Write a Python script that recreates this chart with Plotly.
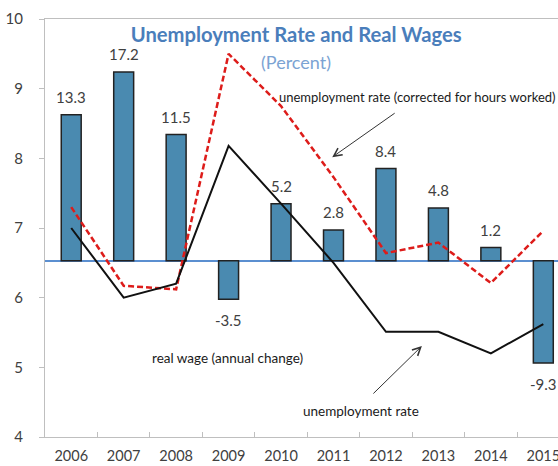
import plotly.graph_objects as go

years = ['2006', '2007', '2008', '2009', '2010', '2011', '2012', '2013', '2014', '2015']
real_wage = [13.3, 17.2, 11.5, -3.5, 5.2, 2.8, 8.4, 4.8, 1.2, -9.3]
unemp_rate = [7.0, 6.0, 6.2, 8.18, 7.35, 6.5, 5.51, 5.51, 5.2, 5.62]
unemp_hours = [7.3, 6.17, 6.12, 9.5, 8.75, 7.73, 6.64, 6.79, 6.21, 6.96]
y_ticks = [4, 5, 6, 7, 8, 9, 10]

FONT = "Lato"
TXT = "#404040"
GRAY = "#BFBFBF"

W, H = 558, 466
ML, MT, MB = 44.5, 19, 29

fig = go.Figure()

fig.add_trace(go.Bar(
    x=years, y=real_wage, yaxis="y", width=0.38,
    marker=dict(color="#4A8AB0", line=dict(color="#222222", width=1.5)),
    name="real wage (annual change)",
))
fig.add_trace(go.Scatter(
    x=years, y=unemp_hours, yaxis="y2", mode="lines",
    line=dict(color="#DD1C1A", width=2.5, dash="6px,3px"),
    name="unemployment rate (corrected for hours worked)",
))
fig.add_trace(go.Scatter(
    x=years, y=unemp_rate, yaxis="y2", mode="lines",
    line=dict(color="#111111", width=2),
    name="unemployment rate",
))

annotations = []
for i, v in enumerate(real_wage):
    annotations.append(dict(
        x=i, y=v, xref="x", yref="y", text=f"{v:.1f}", showarrow=False,
        yanchor="bottom" if v >= 0 else "top", yshift=7 if v >= 0 else -10,
        font=dict(family=FONT, size=15, color=TXT),
    ))

NOTE = dict(family=FONT, size=13.5, color="#1A1A1A")
annotations += [
    dict(x=4.28, y=9.38, xref="x", yref="y2", text="(Percent)", showarrow=False,
         font=dict(family=FONT, size=18, color="#7BA3D3")),
    dict(x=3.93, y=8.882, xref="x", yref="y2", xanchor="left",
         text="unemployment rate (corrected for hours worked)", showarrow=False,
         font=dict(family=FONT, size=13, color="#1A1A1A")),
    dict(x=1.51, y=5.133, xref="x", yref="y2", xanchor="left",
         text="real wage (annual change)", showarrow=False, font=NOTE),
    dict(x=4.38, y=4.373, xref="x", yref="y2", xanchor="left",
         text="unemployment rate", showarrow=False, font=NOTE),
    dict(x=4.976, y=8.017, xref="x", yref="y2", ax=6.195, ay=8.663,
         axref="x", ayref="y2", text="", showarrow=True, arrowhead=5,
         arrowsize=1.6, arrowwidth=1, arrowcolor="#333333"),
    dict(x=6.685, y=5.306, xref="x", yref="y2", ax=5.732, ay=4.603,
         axref="x", ayref="y2", text="", showarrow=True, arrowhead=5,
         arrowsize=1.6, arrowwidth=1, arrowcolor="#333333"),
]

fig.update_layout(
    width=W, height=H,
    margin=dict(l=ML, r=0, t=MT, b=MB, autoexpand=False),
    paper_bgcolor="white", plot_bgcolor="white",
    showlegend=False,
    title=dict(text="<b>Unemployment Rate and Real Wages</b>",
               x=(296 - 44.5) / 513.5, xref="paper", xanchor="center",
               y=1 - 35 / H, yref="container", yanchor="middle",
               font=dict(family=FONT, size=20.2, color="#4A7EBB")),
    xaxis=dict(
        type="category", categoryorder="array", categoryarray=years,
        range=[-0.5, 9.28], showgrid=False, zeroline=False,
        showline=True, linecolor=GRAY, linewidth=1, mirror=True,
        ticks="inside", tickson="boundaries", ticklen=5, tickcolor=GRAY,
        tickfont=dict(family=FONT, size=14.5, color=TXT),
        ticklabelstandoff=6,
    ),
    yaxis=dict(
        range=[-16.05, 22.02], showgrid=False, showticklabels=False,
        ticks="", showline=False,
        zeroline=True, zerolinecolor="#5B8FD0", zerolinewidth=1.5,
    ),
    yaxis2=dict(
        overlaying="y", side="left", range=[4, 10], tickvals=y_ticks,
        showgrid=False, zeroline=False,
        showline=True, linecolor=GRAY, linewidth=1,
        ticks="outside", ticklen=5, tickcolor=GRAY,
        tickfont=dict(family=FONT, size=15, color=TXT),
        ticklabelstandoff=13,
    ),
    annotations=annotations,
)

fig.write_html(
    "out.html",
    config={"displayModeBar": False},
    post_script="document.body.style.margin='0';document.body.style.overflow='hidden';",
)
